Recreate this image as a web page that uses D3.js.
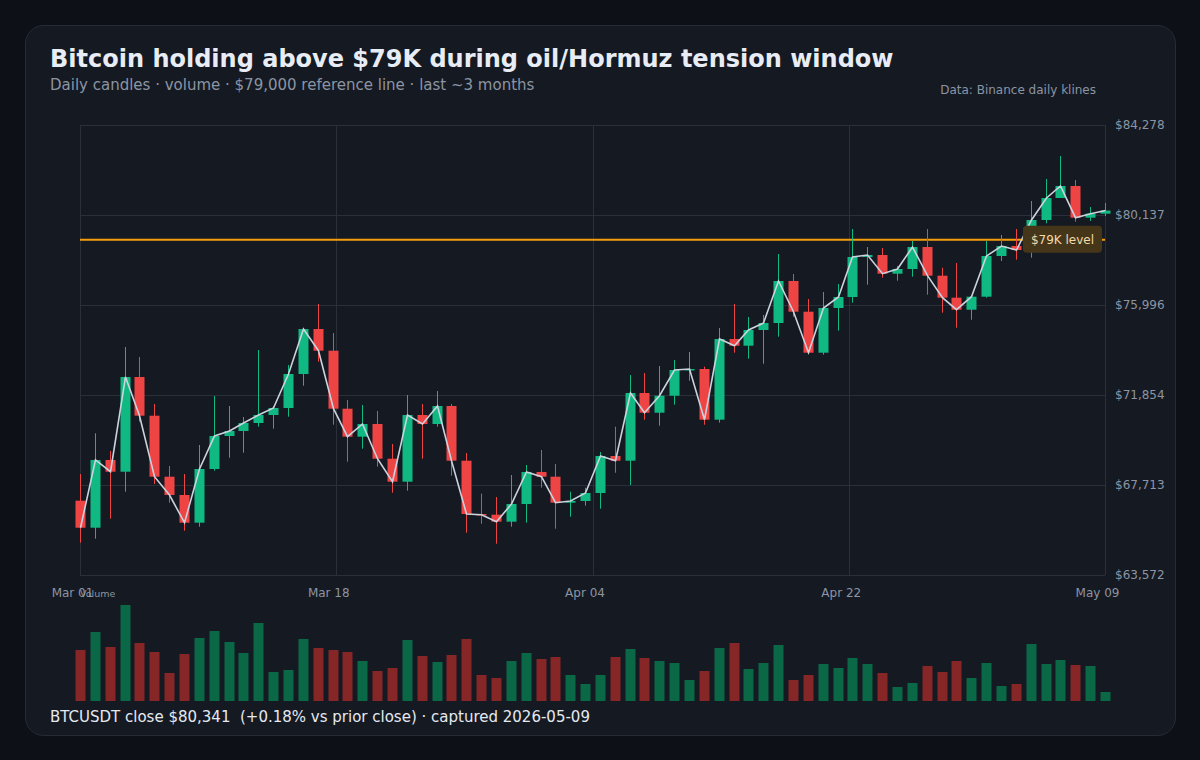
<!DOCTYPE html>
<html>
<head>
<meta charset="utf-8">
<script src="https://cdn.jsdelivr.net/npm/d3@7"></script>
<style>
  html, body { margin: 0; padding: 0; background: #0d1016; }
  svg { display: block; font-family: "DejaVu Sans", sans-serif; }
</style>
</head>
<body>
<svg id="chart" width="1200" height="760"></svg>
<script>
// Daily BTCUSDT klines, Mar 01 .. May 09
const opens  = [66991, 65748, 68864, 68325, 72683, 70902, 68095, 67253, 65979, 68449,
                69968, 70198, 70566, 70934, 71256, 72821, 74891, 73893, 71224, 69936,
                70520, 68923, 67865, 70934, 70520, 71348, 68831, 66379, 66347, 66025,
                66839, 68311, 68095, 66899, 66977, 67345, 69048, 68831, 71946, 71040,
                71822, 73005, 73051, 70718, 74431, 74123, 74845, 75167, 77100, 75687,
                73801, 75858, 76364, 78204, 78296, 77436, 77652, 78664, 77344, 76332,
                75779, 76378, 78250, 78710, 78526, 79907, 80919, 81471, 80013, 80197];
const highs  = [68219, 70092, 69278, 74063, 73603, 71440, 68587, 68219, 69554, 71808,
                71348, 70842, 73925, 71348, 73235, 74920, 76042, 74707, 71624, 71394,
                71118, 69600, 71854, 71440, 72038, 71440, 69186, 67313, 67161, 68173,
                68634, 69324, 68680, 67405, 67589, 69232, 70396, 72775, 72867, 73189,
                73465, 73833, 73157, 74937, 76042, 75443, 75535, 78342, 77422, 76272,
                76594, 76962, 79493, 78664, 78618, 77790, 78940, 79493, 77712, 77928,
                76420, 78940, 79217, 79493, 80781, 81793, 82852, 81747, 80505, 80689];
const lows   = [65058, 65242, 66163, 67405, 70626, 67759, 66899, 65610, 65794, 68371,
                68969, 69199, 70396, 70304, 70856, 72282, 73387, 70488, 68785, 69384,
                68555, 67359, 67451, 68923, 70396, 68141, 65518, 65932, 65012, 65794,
                65979, 67589, 65702, 66255, 66761, 66623, 68279, 67713, 70718, 70442,
                71408, 72512, 70488, 70580, 73801, 73525, 73295, 74537, 75457, 73755,
                73709, 74813, 76101, 76930, 77252, 77114, 77298, 76470, 75641, 74951,
                75319, 76332, 78020, 78080, 78172, 79755, 80919, 79829, 79860, 80091];
const closes = [65748, 68864, 68325, 72683, 70902, 68095, 67253, 65979, 68449, 69968,
                70198, 70566, 70934, 71256, 72821, 74891, 73893, 71224, 69936, 70520,
                68923, 67865, 70934, 70520, 71348, 68831, 66379, 66347, 66025, 66839,
                68311, 68095, 66899, 66977, 67345, 69048, 68831, 71946, 71040, 71822,
                73005, 73051, 70718, 74431, 74123, 74845, 75167, 77100, 75687, 73801,
                75858, 76364, 78204, 78296, 77436, 77652, 78664, 77344, 76332, 75779,
                76378, 78250, 78710, 78526, 79907, 80919, 81471, 80013, 80197, 80341];
// volume (K BTC)
const volumes = [25.5, 34.5, 27.0, 48.0, 29.0, 24.5, 14.0, 23.5, 31.5, 35.0,
                 29.5, 24.0, 39.0, 14.5, 15.5, 31.0, 26.5, 25.5, 24.5, 20.0,
                 15.0, 16.5, 30.5, 22.5, 19.5, 23.0, 31.0, 13.0, 11.5, 20.0,
                 24.0, 21.0, 22.0, 13.0, 8.5, 13.0, 22.0, 26.0, 21.5, 20.0,
                 19.0, 10.5, 15.0, 26.5, 29.0, 16.0, 19.0, 28.0, 10.5, 13.0,
                 18.5, 16.5, 21.5, 18.5, 14.0, 7.0, 9.0, 17.5, 14.5, 20.0,
                 11.5, 19.0, 7.5, 8.5, 28.5, 18.5, 20.5, 18.0, 17.5, 4.5];

const tickLabels = ['Mar 01', 'Mar 18', 'Apr 04', 'Apr 22', 'May 09'];
const priceDomain = [63572, 84278];
const refLevel = 79000;
const refLabel = '$79K level';

const title = 'Bitcoin holding above $79K during oil/Hormuz tension window';
const subtitle = 'Daily candles · volume · $79,000 reference line · last ~3 months';
const source = 'Data: Binance daily klines';
const footer = 'BTCUSDT close $80,341  (+0.18% vs prior close) · captured 2026-05-09';

const UP = '#10b981', DOWN = '#ef4444';
const UP_VOL = '#0a6847', DOWN_VOL = '#862627';
const GRID = '#2a2f3a', MUTED = '#8b95a3';

const svg = d3.select('#chart');
const n = closes.length;
const plot = { left: 80, right: 1105, top: 125, bottom: 575 };

// Card background
svg.append('rect')
    .attr('x', 25.5).attr('y', 25.5)
    .attr('width', 1150).attr('height', 710)
    .attr('rx', 18)
    .attr('fill', '#151922')
    .attr('stroke', '#262c36');

// Header
svg.append('text')
    .attr('x', 50).attr('y', 67)
    .style('font-size', '24px')
    .style('font-weight', 'bold')
    .attr('fill', '#e8edf5')
    .text(title);

svg.append('text')
    .attr('x', 50).attr('y', 90)
    .style('font-size', '15px')
    .attr('fill', MUTED)
    .text(subtitle);

svg.append('text')
    .attr('x', 1096).attr('y', 94)
    .attr('text-anchor', 'end')
    .style('font-size', '12px')
    .attr('fill', MUTED)
    .text(source);

// Scales
const x = d3.scaleLinear()
    .domain([0, n - 1])
    .range([plot.left, plot.right]);

const y = d3.scaleLinear()
    .domain(priceDomain)
    .range([plot.bottom, plot.top]);

const yVol = d3.scaleLinear()
    .domain([0, d3.max(volumes)])
    .range([701, 605]);

const priceTicks = d3.range(6).map(i => priceDomain[0] + i * (priceDomain[1] - priceDomain[0]) / 5);
const xTicks = tickLabels.map((d, i) => i * (n - 1) / (tickLabels.length - 1));
const fmtPrice = d => '$' + d3.format(',')(Math.round(d));

// Grid
const grid = svg.append('g').attr('class', 'grid');

grid.selectAll('.hgrid')
    .data(priceTicks)
    .enter()
    .append('line')
    .attr('x1', plot.left).attr('x2', plot.right)
    .attr('y1', d => Math.round(y(d)) + 0.5)
    .attr('y2', d => Math.round(y(d)) + 0.5)
    .attr('stroke', GRID);

grid.selectAll('.vgrid')
    .data(xTicks)
    .enter()
    .append('line')
    .attr('x1', d => Math.round(x(d)) + 0.5)
    .attr('x2', d => Math.round(x(d)) + 0.5)
    .attr('y1', plot.top).attr('y2', plot.bottom)
    .attr('stroke', GRID);

// Axis labels
svg.append('g')
    .selectAll('text')
    .data(priceTicks)
    .enter()
    .append('text')
    .attr('x', plot.right + 10)
    .attr('y', d => y(d))
    .attr('dy', '0.35em')
    .style('font-size', '12px')
    .attr('fill', MUTED)
    .text(fmtPrice);

svg.append('g')
    .selectAll('text')
    .data(xTicks)
    .enter()
    .append('text')
    .attr('x', d => x(d) - 7.5)
    .attr('y', 597)
    .attr('text-anchor', 'middle')
    .style('font-size', '12px')
    .attr('fill', MUTED)
    .text((d, i) => tickLabels[i]);

// Reference line
svg.append('line')
    .attr('x1', plot.left).attr('x2', plot.right)
    .attr('y1', y(refLevel)).attr('y2', y(refLevel))
    .attr('stroke', '#f59e0b')
    .attr('stroke-width', 2);

// Candles
const candles = svg.append('g')
    .selectAll('g')
    .data(d3.range(n))
    .enter()
    .append('g')
    .attr('fill', i => closes[i] >= opens[i] ? UP : DOWN)
    .attr('stroke', i => closes[i] >= opens[i] ? UP : DOWN);

candles.append('line')
    .attr('x1', i => Math.round(x(i)) + 0.5)
    .attr('x2', i => Math.round(x(i)) + 0.5)
    .attr('y1', i => y(highs[i]))
    .attr('y2', i => y(lows[i]))
    .attr('stroke-width', 1);

candles.append('rect')
    .attr('x', i => Math.round(x(i)) - 4.5)
    .attr('width', 10)
    .attr('y', i => y(Math.max(opens[i], closes[i])))
    .attr('height', i => Math.max(1.5, Math.abs(y(opens[i]) - y(closes[i]))))
    .attr('stroke', 'none');

// Close line
svg.append('path')
    .datum(d3.range(n))
    .attr('fill', 'none')
    .attr('stroke', '#cbd3de')
    .attr('stroke-width', 1.6)
    .attr('d', d3.line().x(i => Math.round(x(i)) + 0.5).y(i => y(closes[i])));

// Reference label
const refG = svg.append('g');
const refText = refG.append('text')
    .attr('y', y(refLevel))
    .attr('dy', '0.35em')
    .attr('text-anchor', 'end')
    .attr('x', 1094)
    .style('font-size', '12px')
    .attr('fill', '#f2d9a6')
    .text(refLabel);
const tw = refText.node().getComputedTextLength();
refG.insert('rect', 'text')
    .attr('x', 1094 - tw - 8)
    .attr('y', y(refLevel) - 14)
    .attr('width', tw + 16)
    .attr('height', 27)
    .attr('rx', 4)
    .attr('fill', '#45361a');

// Volume
svg.append('text')
    .attr('x', 80).attr('y', 597)
    .style('font-size', '9.5px')
    .attr('fill', MUTED)
    .text('Volume');

svg.append('g')
    .selectAll('rect')
    .data(d3.range(n))
    .enter()
    .append('rect')
    .attr('x', i => Math.round(x(i)) - 4.5)
    .attr('width', 10)
    .attr('y', i => yVol(volumes[i]))
    .attr('height', i => yVol(0) - yVol(volumes[i]))
    .attr('fill', i => closes[i] >= opens[i] ? UP_VOL : DOWN_VOL);

// Footer
svg.append('text')
    .attr('x', 50).attr('y', 722)
    .style('font-size', '15px')
    .style('white-space', 'pre')
    .attr('fill', '#e5e9f0')
    .text(footer);
</script>
</body>
</html>
